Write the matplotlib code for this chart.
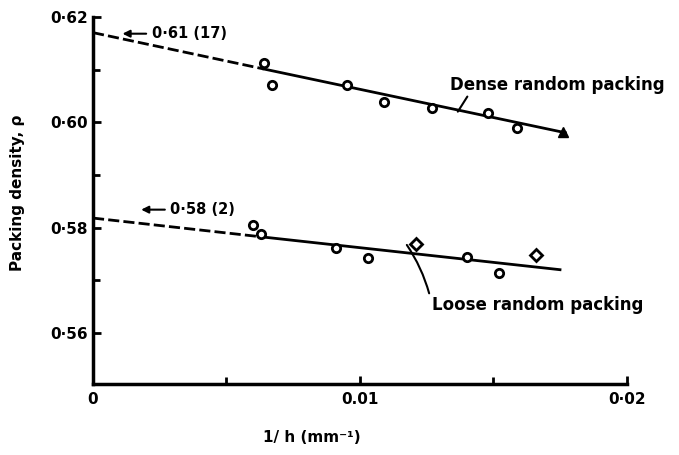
import matplotlib
matplotlib.use("Agg")
import matplotlib.pyplot as plt

# dense random packing measurements
dense_x = [0.0064, 0.0067, 0.0095, 0.0109, 0.0127, 0.0148, 0.0159]
dense_y = [0.6113, 0.6071, 0.6071, 0.6039, 0.6027, 0.6018, 0.5989]
dense_tri_x = [0.0176]
dense_tri_y = [0.5981]
dense_fit_x = [0.0, 0.0064, 0.0177]
dense_fit_y = [0.6170, 0.6101, 0.5980]

# loose random packing measurements
loose_x = [0.0060, 0.0063, 0.0091, 0.0103, 0.0140, 0.0152]
loose_y = [0.5805, 0.5788, 0.5761, 0.5742, 0.5744, 0.5714]
loose_dia_x = [0.0121, 0.0166]
loose_dia_y = [0.5769, 0.5748]
loose_fit_x = [0.0, 0.0062, 0.0175]
loose_fit_y = [0.5818, 0.5783, 0.5720]

yticks = [0.56, 0.58, 0.60, 0.62]
ytick_labels = ["0·56", "0·58", "0·60", "0·62"]
xticks = [0, 0.01, 0.02]
xtick_labels = ["0", "0.01", "0·02"]

plt.rcParams["font.family"] = "DejaVu Sans"
plt.rcParams["font.weight"] = "bold"
plt.rcParams["axes.labelweight"] = "bold"

fig = plt.figure(figsize=(6.79, 4.55), dpi=100)
ax = fig.add_axes([0.137, 0.156, 0.786, 0.807])

# fitted lines: dashed near the axis, solid through the data
ax.plot(dense_fit_x[:2], dense_fit_y[:2], color="black", lw=2, ls=(0, (4, 1.5)))
ax.plot(dense_fit_x[1:], dense_fit_y[1:], color="black", lw=2)
ax.plot(loose_fit_x[:2], loose_fit_y[:2], color="black", lw=2, ls=(0, (4, 1.5)))
ax.plot(loose_fit_x[1:], loose_fit_y[1:], color="black", lw=2)

ax.plot(dense_x, dense_y, "o", ms=6, mfc="white", mec="black", mew=2)
ax.plot(dense_tri_x, dense_tri_y, "^", ms=7, color="black")
ax.plot(loose_x, loose_y, "o", ms=6, mfc="white", mec="black", mew=2)
ax.plot(loose_dia_x, loose_dia_y, "D", ms=6, mfc="white", mec="black", mew=2)

# limiting values from literature
ax.annotate("0·61 (17)", xy=(0.001, 0.6168), xytext=(0.0022, 0.6168),
            fontsize=10.5, va="center",
            arrowprops=dict(arrowstyle="-|>", color="black", lw=1.5))
ax.annotate("0·58 (2)", xy=(0.0017, 0.5834), xytext=(0.0029, 0.5834),
            fontsize=10.5, va="center",
            arrowprops=dict(arrowstyle="-|>", color="black", lw=1.5))

ax.annotate("Dense random packing", xy=(0.01367, 0.6020), xytext=(0.01337, 0.6071),
            fontsize=12, va="center",
            arrowprops=dict(arrowstyle="-", color="black", lw=1.5,
                            shrinkA=0, shrinkB=0, relpos=(0.09, 0)))
ax.annotate("Loose random packing", xy=(0.01176, 0.5767), xytext=(0.01270, 0.5653),
            fontsize=12, va="center",
            arrowprops=dict(arrowstyle="-", color="black", lw=1.5,
                            shrinkA=0, shrinkB=0, relpos=(0, 0.5),
                            connectionstyle="arc3,rad=0.1"))

ax.set_xlim(0, 0.02)
ax.set_ylim(0.5503, 0.62)
ax.set_yticks(yticks)
ax.set_yticklabels(ytick_labels)
ax.set_yticks([0.57, 0.59, 0.61], minor=True)
ax.set_xticks(xticks)
ax.set_xticklabels(xtick_labels)
ax.set_xticks([0.005, 0.015], minor=True)
ax.tick_params(which="both", direction="in", width=2, labelsize=11)
ax.tick_params(which="major", length=6)
ax.tick_params(which="minor", length=5)
ax.tick_params(axis="x", pad=6)

for s in ["top", "right"]:
    ax.spines[s].set_visible(False)
for s in ["left", "bottom"]:
    ax.spines[s].set_linewidth(2.5)

ax.set_ylabel("Packing density, ρ", fontsize=11)
ax.yaxis.set_label_coords(-0.127, 0.52)
ax.set_xlabel("1/ h (mm⁻¹)", fontsize=11)
ax.xaxis.set_label_coords(0.41, -0.125)

fig.savefig("out.png", dpi=100)
